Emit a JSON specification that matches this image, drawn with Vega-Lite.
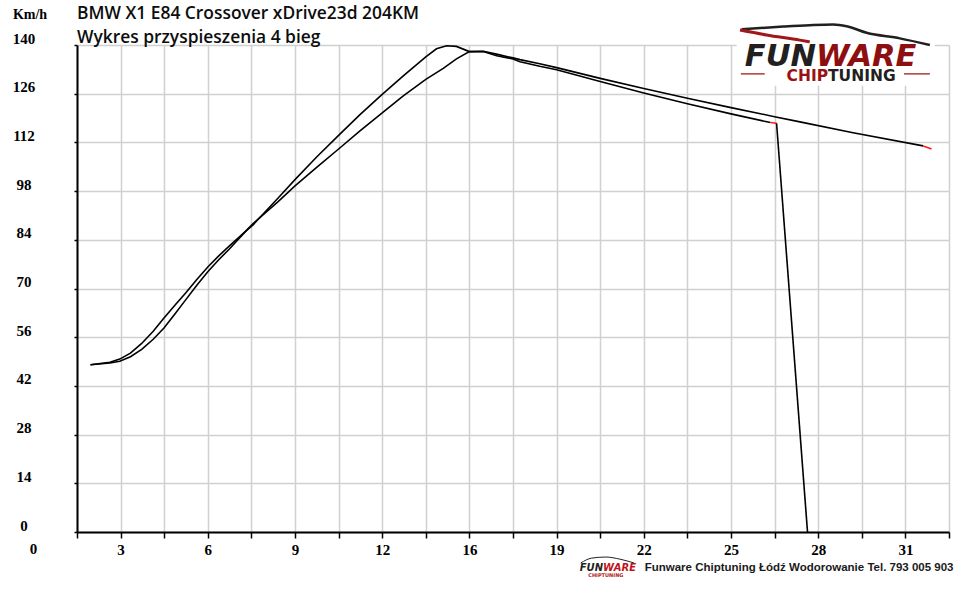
{
  "$schema": "https://vega.github.io/schema/vega-lite/v6.json",
  "autosize": "none",
  "padding": {"left": 77, "top": 45, "right": 11, "bottom": 59},
  "width": 872,
  "height": 487,
  "background": "white",
  "title": {
    "text": ["BMW X1 E84 Crossover xDrive23d 204KM", "Wykres przyspieszenia 4 bieg"],
    "anchor": "start",
    "frame": "group",
    "offset": -39,
    "font": "Open Sans",
    "fontWeight": 600,
    "fontSize": 17.4,
    "lineHeight": 23.7,
    "color": "#0d0d0d"
  },
  "config": {
    "view": {"stroke": null},
    "axis": {
      "grid": true,
      "gridColor": "#d0d0d0",
      "gridWidth": 1.5,
      "gridOpacity": 1,
      "domainColor": "#000000",
      "domainWidth": 2,
      "tickColor": "#000000",
      "tickWidth": 1.5,
      "labelFont": "Liberation Serif",
      "labelFontWeight": "bold",
      "labelFontSize": 15,
      "labelColor": "#000000",
      "labelOverlap": false,
      "labelFlush": false
    }
  },
  "datasets": {
    "przebiegi": [
      {"t": 2.03, "v": 48.1, "s": "A"},
      {"t": 2.72, "v": 48.8, "s": "A"},
      {"t": 3.07, "v": 49.7, "s": "A"},
      {"t": 3.45, "v": 51.4, "s": "A"},
      {"t": 3.85, "v": 54.2, "s": "A"},
      {"t": 4.26, "v": 57.7, "s": "A"},
      {"t": 4.65, "v": 61.6, "s": "A"},
      {"t": 5.03, "v": 65.2, "s": "A"},
      {"t": 5.42, "v": 68.8, "s": "A"},
      {"t": 5.81, "v": 72.6, "s": "A"},
      {"t": 6.2, "v": 76.2, "s": "A"},
      {"t": 6.58, "v": 79.3, "s": "A"},
      {"t": 6.96, "v": 82.2, "s": "A"},
      {"t": 7.55, "v": 86.5, "s": "A"},
      {"t": 7.8, "v": 88.2, "s": "A"},
      {"t": 8.05, "v": 90.4, "s": "A"},
      {"t": 8.7, "v": 96.0, "s": "A"},
      {"t": 9.3, "v": 101.3, "s": "A"},
      {"t": 10.07, "v": 107.8, "s": "A"},
      {"t": 10.85, "v": 114.0, "s": "A"},
      {"t": 11.61, "v": 120.0, "s": "A"},
      {"t": 12.4, "v": 125.8, "s": "A"},
      {"t": 13.15, "v": 131.1, "s": "A"},
      {"t": 13.95, "v": 136.6, "s": "A"},
      {"t": 14.33, "v": 138.9, "s": "A"},
      {"t": 14.69, "v": 139.8, "s": "A"},
      {"t": 15.04, "v": 139.6, "s": "A"},
      {"t": 15.5, "v": 138.1, "s": "A"},
      {"t": 16.0, "v": 138.2, "s": "A"},
      {"t": 16.5, "v": 137.3, "s": "A"},
      {"t": 17.05, "v": 136.3, "s": "A"},
      {"t": 17.3, "v": 135.8, "s": "A"},
      {"t": 18.0, "v": 134.6, "s": "A"},
      {"t": 18.6, "v": 133.5, "s": "A"},
      {"t": 20.15, "v": 130.4, "s": "A"},
      {"t": 21.7, "v": 127.5, "s": "A"},
      {"t": 23.25, "v": 124.7, "s": "A"},
      {"t": 24.8, "v": 122.0, "s": "A"},
      {"t": 26.35, "v": 119.4, "s": "A"},
      {"t": 27.25, "v": 117.9, "s": "A"},
      {"t": 29.14, "v": 114.8, "s": "A"},
      {"t": 31.63, "v": 111.0, "s": "A"},
      {"t": 31.63, "v": 111.0, "s": "A_koniec"},
      {"t": 31.93, "v": 110.1, "s": "A_koniec"},
      {"t": 2.03, "v": 48.1, "s": "B"},
      {"t": 2.72, "v": 48.6, "s": "B"},
      {"t": 3.07, "v": 49.1, "s": "B"},
      {"t": 3.45, "v": 50.4, "s": "B"},
      {"t": 3.85, "v": 52.5, "s": "B"},
      {"t": 4.26, "v": 55.4, "s": "B"},
      {"t": 4.65, "v": 58.7, "s": "B"},
      {"t": 5.03, "v": 62.7, "s": "B"},
      {"t": 5.42, "v": 66.8, "s": "B"},
      {"t": 5.81, "v": 70.9, "s": "B"},
      {"t": 6.2, "v": 74.8, "s": "B"},
      {"t": 6.58, "v": 78.2, "s": "B"},
      {"t": 6.96, "v": 81.3, "s": "B"},
      {"t": 7.55, "v": 86.5, "s": "B"},
      {"t": 7.8, "v": 88.6, "s": "B"},
      {"t": 8.05, "v": 90.4, "s": "B"},
      {"t": 8.7, "v": 95.0, "s": "B"},
      {"t": 9.3, "v": 99.5, "s": "B"},
      {"t": 10.07, "v": 104.8, "s": "B"},
      {"t": 10.85, "v": 110.1, "s": "B"},
      {"t": 11.61, "v": 115.3, "s": "B"},
      {"t": 12.4, "v": 120.5, "s": "B"},
      {"t": 13.15, "v": 125.4, "s": "B"},
      {"t": 13.95, "v": 130.1, "s": "B"},
      {"t": 14.57, "v": 133.3, "s": "B"},
      {"t": 15.04, "v": 136.0, "s": "B"},
      {"t": 15.5, "v": 138.1, "s": "B"},
      {"t": 15.99, "v": 138.1, "s": "B"},
      {"t": 16.47, "v": 136.9, "s": "B"},
      {"t": 17.05, "v": 136.0, "s": "B"},
      {"t": 17.3, "v": 135.2, "s": "B"},
      {"t": 18.0, "v": 133.9, "s": "B"},
      {"t": 18.6, "v": 132.9, "s": "B"},
      {"t": 20.15, "v": 129.5, "s": "B"},
      {"t": 21.7, "v": 126.2, "s": "B"},
      {"t": 23.25, "v": 123.1, "s": "B"},
      {"t": 24.8, "v": 120.2, "s": "B"},
      {"t": 26.2, "v": 117.7, "s": "B"},
      {"t": 26.2, "v": 117.7, "s": "B_koniec"},
      {"t": 26.42, "v": 117.5, "s": "B_koniec"},
      {"t": 26.42, "v": 117.5, "s": "B_spadek"},
      {"t": 27.52, "v": 0, "s": "B_spadek"}
    ],
    "sylwetka": [
      {"x": 25.18, "y": 144.5, "czesc": "dach"},
      {"x": 26.66, "y": 145.3, "czesc": "dach"},
      {"x": 27.6, "y": 145.7, "czesc": "dach"},
      {"x": 28.43, "y": 145.9, "czesc": "dach"},
      {"x": 28.91, "y": 145.4, "czesc": "dach"},
      {"x": 29.62, "y": 143.5, "czesc": "dach"},
      {"x": 30.8, "y": 141.9, "czesc": "dach"},
      {"x": 31.87, "y": 140.0, "czesc": "dach"},
      {"x": 25.12, "y": 144.3, "czesc": "pas"},
      {"x": 26.06, "y": 142.9, "czesc": "pas"},
      {"x": 27.25, "y": 141.4, "czesc": "pas"},
      {"x": 27.6, "y": 140.9, "czesc": "pas"},
      {"x": 19.46, "y": -8.9, "czesc": "maly"},
      {"x": 19.85, "y": -7.5, "czesc": "maly"},
      {"x": 20.35, "y": -7.2, "czesc": "maly"},
      {"x": 20.85, "y": -7.8, "czesc": "maly"},
      {"x": 21.35, "y": -8.9, "czesc": "maly"}
    ]
  },
  "layer": [
    {
      "data": {"name": "przebiegi"},
      "mark": {"type": "line", "strokeWidth": 1.6},
      "encoding": {
        "x": {
          "field": "t",
          "type": "quantitative",
          "scale": {"domain": [1.55, 32.55], "nice": false, "zero": false},
          "axis": {
            "grid": true,
            "title": "Funware Chiptuning Łódź Wodorowanie Tel. 793 005 903",
            "titleFont": "Liberation Sans",
            "titleFontWeight": "bold",
            "titleFontSize": 11.5,
            "titleColor": "#1a1a1a",
            "titleAlign": "right",
            "titleBaseline": "alphabetic",
            "titleX": 876,
            "titleY": 38,
            "values": [1.55, 3.1, 4.65, 6.2, 7.75, 9.3, 10.85, 12.4, 13.95, 15.5, 17.05, 18.6, 20.15, 21.7, 23.25, 24.8, 26.35, 27.9, 29.45, 31, 32.55],
            "labelExpr": "round(datum.value / 1.55) % 2 == 0 ? round(datum.value) + '' : ''",
            "tickSize": 6,
            "labelPadding": 4,
            "labelBaseline": "top"
          }
        },
        "y": {
          "field": "v",
          "type": "quantitative",
          "scale": {"domain": [0, 140], "nice": false},
          "axis": {
            "grid": true,
            "title": "Km/h",
            "titleFont": "Liberation Serif",
            "titleFontWeight": "bold",
            "titleFontSize": 14,
            "titleColor": "#000000",
            "titleAngle": 0,
            "titleAlign": "center",
            "titleBaseline": "middle",
            "titleX": -47.5,
            "titleY": -31,
            "values": [0, 7, 14, 21, 28, 35, 42, 49, 56, 63, 70, 77, 84, 91, 98, 105, 112, 119, 126, 133, 140],
            "labelExpr": "datum.value % 14 == 0 ? datum.value + '' : ''",
            "tickSize": 3,
            "labelAlign": "center",
            "labelBaseline": "alphabetic",
            "labelPadding": 50.5,
            "labelOffset": -2
          }
        },
        "color": {
          "field": "s",
          "type": "nominal",
          "scale": {
            "domain": ["A", "B", "A_koniec", "B_koniec", "B_spadek"],
            "range": ["#000000", "#000000", "#ff1a1a", "#ff1a1a", "#000000"]
          },
          "legend": null
        }
      }
    },
    {
      "data": {"values": [{}]},
      "mark": {"type": "rect", "fill": "white"},
      "encoding": {
        "x": {"datum": 25.0},
        "x2": {"datum": 32.05},
        "y": {"datum": 128.3},
        "y2": {"datum": 140.5}
      }
    },
    {
      "data": {"name": "sylwetka"},
      "transform": [{"filter": "datum.czesc != 'pas'"}],
      "mark": {"type": "line", "color": "#231f20", "interpolate": "monotone"},
      "encoding": {
        "x": {"field": "x", "type": "quantitative"},
        "y": {"field": "y", "type": "quantitative"},
        "detail": {"field": "czesc"},
        "strokeWidth": {"condition": {"test": "datum.czesc == 'maly'", "value": 1}, "value": 2.5}
      }
    },
    {
      "data": {"name": "sylwetka"},
      "transform": [{"filter": "datum.czesc == 'pas'"}],
      "mark": {"type": "line", "color": "#a01818", "interpolate": "monotone", "strokeWidth": 3},
      "encoding": {
        "x": {"field": "x", "type": "quantitative"},
        "y": {"field": "y", "type": "quantitative"}
      }
    },
    {
      "data": {"values": [{}]},
      "mark": {"type": "rule", "color": "#b03a3a", "strokeWidth": 1.5},
      "encoding": {"x": {"datum": 25.15}, "x2": {"datum": 26.0}, "y": {"datum": 131.7}}
    },
    {
      "data": {"values": [{}]},
      "mark": {"type": "rule", "color": "#b03a3a", "strokeWidth": 1.5},
      "encoding": {"x": {"datum": 30.95}, "x2": {"datum": 31.87}, "y": {"datum": 131.7}}
    },
    {
      "data": {"values": [{}]},
      "mark": {"type": "text", "text": "FUN", "align": "right", "baseline": "alphabetic", "font": "DejaVu Sans", "fontWeight": "bold", "fontStyle": "italic", "fontSize": 30.5, "color": "#231f20"},
      "encoding": {"x": {"datum": 27.82}, "y": {"datum": 134.0}}
    },
    {
      "data": {"values": [{}]},
      "mark": {"type": "text", "text": "WARE", "align": "left", "baseline": "alphabetic", "font": "DejaVu Sans", "fontWeight": "bold", "fontStyle": "italic", "fontSize": 30.5, "color": "#8e0f12"},
      "encoding": {"x": {"datum": 27.82}, "y": {"datum": 134.0}}
    },
    {
      "data": {"values": [{}]},
      "mark": {"type": "text", "text": "CHIP", "align": "right", "baseline": "alphabetic", "font": "DejaVu Sans", "fontWeight": "bold", "fontSize": 15.5, "color": "#9b1015"},
      "encoding": {"x": {"datum": 28.25}, "y": {"datum": 129.6}}
    },
    {
      "data": {"values": [{}]},
      "mark": {"type": "text", "text": "TUNING", "align": "left", "baseline": "alphabetic", "font": "DejaVu Sans", "fontWeight": "bold", "fontSize": 15.5, "color": "#231f20"},
      "encoding": {"x": {"datum": 28.25}, "y": {"datum": 129.6}}
    },
    {
      "data": {"values": [{}]},
      "mark": {"type": "text", "text": "FUN", "align": "right", "baseline": "alphabetic", "font": "DejaVu Sans", "fontWeight": "bold", "fontStyle": "italic", "fontSize": 10, "color": "#231f20"},
      "encoding": {"x": {"datum": 20.25}, "y": {"datum": -11.2}}
    },
    {
      "data": {"values": [{}]},
      "mark": {"type": "text", "text": "WARE", "align": "left", "baseline": "alphabetic", "font": "DejaVu Sans", "fontWeight": "bold", "fontStyle": "italic", "fontSize": 10, "color": "#c0141a"},
      "encoding": {"x": {"datum": 20.25}, "y": {"datum": -11.2}}
    },
    {
      "data": {"values": [{}]},
      "mark": {"type": "text", "text": "CHIPTUNING", "align": "center", "baseline": "alphabetic", "font": "DejaVu Sans", "fontWeight": "bold", "fontSize": 5, "color": "#b01a1a"},
      "encoding": {"x": {"datum": 20.35}, "y": {"datum": -12.9}}
    },
    {
      "data": {"values": [{}]},
      "mark": {"type": "text", "text": "0", "align": "center", "baseline": "alphabetic", "dy": 22, "font": "Liberation Serif", "fontWeight": "bold", "fontSize": 15, "color": "#000000"},
      "encoding": {"x": {"datum": 0}, "y": {"datum": 0}}
    }
  ]
}
